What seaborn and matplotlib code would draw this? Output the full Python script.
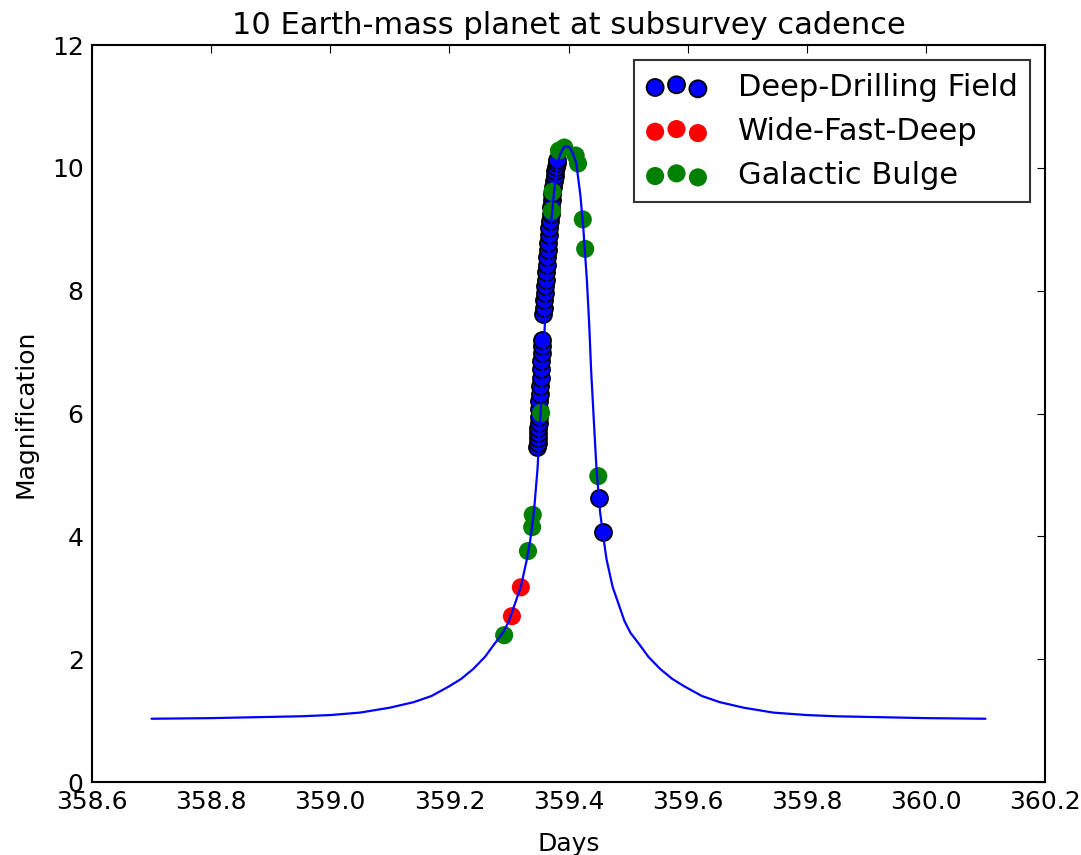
import matplotlib
matplotlib.use("Agg")
import matplotlib.pyplot as plt
import seaborn as sns
import pandas as pd

# ---- data ----
model_days = [358.70, 358.75, 358.80, 358.85, 358.90, 358.95, 359.00, 359.05, 359.10,
              359.14, 359.17, 359.20, 359.22, 359.24, 359.26, 359.275, 359.29, 359.30,
              359.31, 359.32, 359.33, 359.336, 359.342, 359.348, 359.352, 359.357,
              359.360, 359.364, 359.370, 359.375, 359.382, 359.386, 359.390, 359.393,
              359.397, 359.401, 359.404, 359.408, 359.413, 359.420, 359.425, 359.431,
              359.435, 359.438, 359.443, 359.447, 359.453, 359.459, 359.464, 359.474,
              359.484, 359.494, 359.504, 359.519, 359.534, 359.554, 359.574, 359.594,
              359.624, 359.654, 359.694, 359.744, 359.80, 359.85, 359.90, 359.95,
              360.00, 360.05, 360.10]
model_mag = [1.03, 1.035, 1.04, 1.05, 1.06, 1.07, 1.09, 1.13, 1.21,
             1.30, 1.40, 1.56, 1.68, 1.84, 2.04, 2.24, 2.43, 2.62,
             2.90, 3.18, 3.62, 3.95, 4.40, 5.10, 5.80, 6.70,
             7.40, 8.15, 9.00, 9.55, 10.08, 10.22, 10.30, 10.34,
             10.35, 10.34, 10.30, 10.22, 10.08, 9.55, 9.00, 8.15,
             7.40, 6.70, 5.80, 5.10, 4.40, 3.95, 3.62, 3.18,
             2.90, 2.62, 2.43, 2.24, 2.04, 1.84, 1.68, 1.56,
             1.40, 1.30, 1.21, 1.13, 1.09, 1.07, 1.06, 1.05,
             1.04, 1.035, 1.03]

ddf_days = [359.347, 359.348, 359.348, 359.349, 359.349, 359.350, 359.350, 359.351,
            359.351, 359.352, 359.352, 359.353, 359.353, 359.354, 359.355, 359.355,
            359.356, 359.358, 359.359, 359.359, 359.360, 359.361, 359.362, 359.363,
            359.364, 359.364, 359.365, 359.366, 359.367, 359.368, 359.369, 359.370,
            359.371, 359.372, 359.373, 359.374, 359.376, 359.377, 359.378, 359.379,
            359.380, 359.381, 359.451, 359.458]
ddf_mag = [5.45, 5.52, 5.60, 5.68, 5.76, 5.85, 5.95, 6.08,
           6.20, 6.32, 6.45, 6.58, 6.72, 6.85, 6.98, 7.10,
           7.20, 7.62, 7.72, 7.85, 7.97, 8.08, 8.18, 8.30,
           8.42, 8.55, 8.66, 8.78, 8.90, 9.02, 9.14, 9.25,
           9.36, 9.47, 9.58, 9.68, 9.78, 9.87, 9.95, 10.02,
           10.08, 10.13, 4.62, 4.07]

wfd_days = [359.305, 359.320]
wfd_mag = [2.70, 3.17]

bulge_days = [359.292, 359.332, 359.339, 359.340, 359.354, 359.372, 359.373,
              359.384, 359.393, 359.412, 359.416, 359.424, 359.428, 359.450]
bulge_mag = [2.39, 3.76, 4.15, 4.35, 6.01, 9.30, 9.61,
             10.28, 10.33, 10.20, 10.07, 9.16, 8.68, 4.98]

x_ticks = [358.6, 358.8, 359.0, 359.2, 359.4, 359.6, 359.8, 360.0, 360.2]
x_tick_labels = ["358.6", "358.8", "359.0", "359.2", "359.4", "359.6", "359.8", "360.0", "360.2"]
y_ticks = [0, 2, 4, 6, 8, 10, 12]
y_tick_labels = ["0", "2", "4", "6", "8", "10", "12"]

title = "10 Earth-mass planet at subsurvey cadence"
labels = ["Deep-Drilling Field", "Wide-Fast-Deep", "Galactic Bulge"]

# ---- style ----
sns.set_style("white")
plt.rcParams.update({
    "font.family": ["DejaVu Sans"],
    "xtick.direction": "in",
    "ytick.direction": "in",
    "xtick.top": True,
    "ytick.right": True,
    "xtick.major.size": 6,
    "ytick.major.size": 6,
    "xtick.major.width": 0.8,
    "ytick.major.width": 0.8,
    "xtick.major.pad": 6,
    "ytick.major.pad": 6,
    "xtick.color": "black",
    "ytick.color": "black",
    "axes.edgecolor": "black",
    "axes.linewidth": 1.5,
    "text.color": "black",
    "axes.labelcolor": "black",
})

fig = plt.figure(figsize=(10.81, 8.55), dpi=100)
ax = fig.add_axes([92 / 1081, 1 - 782 / 855, (1045 - 92) / 1081, (782 - 45) / 855])

df_model = pd.DataFrame({"Days": model_days, "Magnification": model_mag})
df_ddf = pd.DataFrame({"Days": ddf_days, "Magnification": ddf_mag})
df_wfd = pd.DataFrame({"Days": wfd_days, "Magnification": wfd_mag})
df_bulge = pd.DataFrame({"Days": bulge_days, "Magnification": bulge_mag})

sns.scatterplot(data=df_ddf, x="Days", y="Magnification", ax=ax, color=(0, 0, 1),
                edgecolor="black", linewidth=1.3, s=150, label=labels[0], legend=False, zorder=1)
sns.scatterplot(data=df_wfd, x="Days", y="Magnification", ax=ax, color=(1, 0, 0),
                edgecolor="none", linewidth=0, s=170, label=labels[1], legend=False, zorder=1)
sns.scatterplot(data=df_bulge, x="Days", y="Magnification", ax=ax, color=(0, 0.5, 0),
                edgecolor="none", linewidth=0, s=170, label=labels[2], legend=False, zorder=1)
sns.lineplot(data=df_model, x="Days", y="Magnification", ax=ax, color=(0, 0, 1),
             linewidth=1.6, sort=False, estimator=None, legend=False, zorder=2)

ax.set_xlim(358.6, 360.2)
ax.set_ylim(0, 12)
ax.set_xticks(x_ticks)
ax.set_xticklabels(x_tick_labels)
ax.set_yticks(y_ticks)
ax.set_yticklabels(y_tick_labels)
ax.tick_params(labelsize=18)
ax.set_xlabel("Days", fontsize=18, labelpad=13)
ax.set_ylabel("Magnification", fontsize=18, labelpad=10)
ax.set_title(title, fontsize=22, pad=8)

leg = ax.legend(loc="upper right", scatterpoints=3, fontsize=22, frameon=True,
                fancybox=False, borderaxespad=0.5, handletextpad=1.0)
leg.get_frame().set_edgecolor("black")
leg.get_frame().set_linewidth(1.5)

for s in ax.spines.values():
    s.set_visible(True)

fig.savefig("out.png", dpi=100, facecolor="white")
